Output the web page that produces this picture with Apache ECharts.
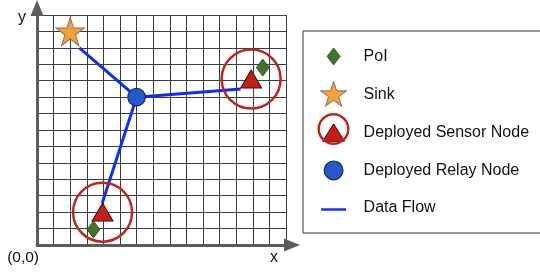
<!DOCTYPE html>
<html>
<head>
<meta charset="utf-8">
<script src="https://cdn.jsdelivr.net/npm/echarts@6/dist/echarts.min.js"></script>
<style>
    html, body {margin: 0; padding: 0; background: #fff;}
    #chart {width: 540px; height: 276px;}
</style>
</head>
<body>
<div id="chart"></div>
<script>
    // positions in grid units (x: 0-15, y: 0-14)
    var sinkPos = [[2, 13]];
    var relayPos = [[6, 9]];
    var sensorPos = [[12.9, 10.1], [3.95, 2.0]];
    var poiPos = [[13.6, 10.8], [3.4, 0.95]];
    // data flow segments, each [from, to]
    var flowLinks = [
        [[2.55, 12.0], [6, 9]],
        [[6, 9], [12.27, 9.5]],
        [[6, 9], [3.93, 2.55]]
    ];
    var legendNames = ['PoI', 'Sink', 'Deployed Sensor Node', 'Deployed Relay Node', 'Data Flow'];

    var FONT = '"Liberation Sans", Arial, sans-serif';
    var starPath = 'path://M50,0L61.2,34.5L97.6,34.5L68.2,55.9L79.4,90.5L50,69.1L20.6,90.5L31.8,55.9L2.4,34.5L38.8,34.5Z';

    // legend icons drawn in a 40x26 box (first two moves fix the box)
    var BOX = 'path://M0,0M40,26';
    var legendIcons = {
        'PoI': BOX + 'M20,4.5L26.5,13L20,21.5L13.5,13Z',
        'Sink': BOX + 'M20,0L23.1,9.54L33.12,9.54L25.01,15.43L28.11,24.96L20,19.07L11.89,24.96L14.99,15.43L6.88,9.54L16.9,9.54Z',
        'Deployed Sensor Node': BOX + 'M20,4.5L31,22L9,22Z',
        'Deployed Relay Node': BOX + 'M10.6,13A9.4,9.4 0 1 1 29.4,13A9.4,9.4 0 1 1 10.6,13Z',
        'Data Flow': BOX + 'M7.5,13.3H32.5V15.7H7.5Z'
    };
    var styles = {
        'PoI': {color: '#447428', borderColor: '#2a4418', borderWidth: 0.8, opacity: 1},
        'Sink': {color: '#f5a03a', borderColor: '#86705a', borderWidth: 1, opacity: 1},
        'Deployed Sensor Node': {color: '#c21f18', borderColor: '#3e0c0c', borderWidth: 1, opacity: 1},
        'Deployed Relay Node': {color: '#2458cc', borderColor: '#18295a', borderWidth: 1.2, opacity: 1},
        'Data Flow': {color: '#0d2cf7', borderWidth: 0, opacity: 1}
    };

    var myChart = echarts.init(document.getElementById('chart'));

    var legendData = legendNames.map(function (n) {
        return {name: n, icon: legendIcons[n], itemStyle: styles[n]};
    });

    var option = {
        backgroundColor: '#fff',
        animation: false,
        textStyle: {fontFamily: FONT},
        grid: {left: 37, right: 254, top: 15, bottom: 31, containLabel: false, outerBoundsMode: 'none'},
        legend: {
            orient: 'vertical',
            left: 303,
            top: 31,
            padding: [12, 60, 12, 10],
            borderColor: '#333',
            borderWidth: 1,
            itemWidth: 40,
            itemHeight: 26,
            itemGap: 11,
            selectedMode: false,
            textStyle: {fontSize: 16, color: '#111', fontFamily: FONT, padding: [0, 0, 0, 5]},
            data: legendData
        },
        xAxis: {
            type: 'value',
            min: 0, max: 15, interval: 1,
            name: 'x',
            nameLocation: 'end',
            nameGap: -12,
            nameTextStyle: {fontSize: 16, color: '#111', align: 'center', verticalAlign: 'top', padding: [5, 0, 0, 0]},
            axisLine: {show: true, symbol: ['none', 'triangle'], symbolSize: [13, 16], symbolOffset: [0, 6],
                lineStyle: {color: '#5c5c5c', width: 3}},
            axisTick: {show: false},
            axisLabel: {
                showMinLabel: true,
                margin: 5,
                align: 'right',
                fontSize: 15.5,
                color: '#111',
                padding: [0, -2, 0, 0],
                formatter: function (v) { return v === 0 ? '(0,0)' : ''; }
            },
            splitLine: {show: true, lineStyle: {color: '#3c3c3c', width: 1}}
        },
        yAxis: {
            type: 'value',
            min: 0, max: 14, interval: 1,
            name: 'y',
            nameLocation: 'end',
            nameGap: -3,
            nameTextStyle: {fontSize: 16, color: '#111', align: 'right', verticalAlign: 'middle', padding: [0, 11, 0, 0]},
            axisLine: {show: true, symbol: ['none', 'triangle'], symbolSize: [13, 16], symbolOffset: [0, 7],
                lineStyle: {color: '#5c5c5c', width: 3}},
            axisTick: {show: false},
            axisLabel: {show: false},
            splitLine: {show: true, lineStyle: {color: '#3c3c3c', width: 1}}
        },
        series: [
            {
                name: 'Data Flow',
                type: 'lines',
                coordinateSystem: 'cartesian2d',
                silent: true,
                lineStyle: {color: styles['Data Flow'].color, width: 3, opacity: 1},
                data: flowLinks.map(function (l) { return {coords: l}; })
            },
            {
                // sensing range around each sensor
                name: 'range',
                type: 'scatter',
                silent: true,
                symbol: 'circle',
                symbolSize: 59,
                itemStyle: {color: 'rgba(0,0,0,0)', borderColor: '#bd2620', borderWidth: 2.5, opacity: 1},
                data: sensorPos
            },
            {
                name: 'PoI',
                type: 'scatter',
                symbol: 'diamond',
                symbolSize: [13, 17],
                itemStyle: styles['PoI'],
                data: poiPos
            },
            {
                name: 'Deployed Sensor Node',
                type: 'scatter',
                symbol: 'triangle',
                symbolSize: [21, 18],
                itemStyle: styles['Deployed Sensor Node'],
                data: sensorPos
            },
            {
                name: 'Sink',
                type: 'scatter',
                symbol: starPath,
                symbolSize: [28, 28.5],
                itemStyle: styles['Sink'],
                data: sinkPos
            },
            {
                name: 'Deployed Relay Node',
                type: 'scatter',
                symbol: 'circle',
                symbolSize: 17.5,
                itemStyle: styles['Deployed Relay Node'],
                data: relayPos
            }
        ],
        // red ring of the sensor legend icon
        graphic: [{
            type: 'circle',
            z: 100,
            silent: true,
            shape: {cx: 333.5, cy: 129, r: 14.8},
            style: {fill: 'none', stroke: '#bd2620', lineWidth: 2.5}
        }]
    };

    myChart.setOption(option);
</script>
</body>
</html>
